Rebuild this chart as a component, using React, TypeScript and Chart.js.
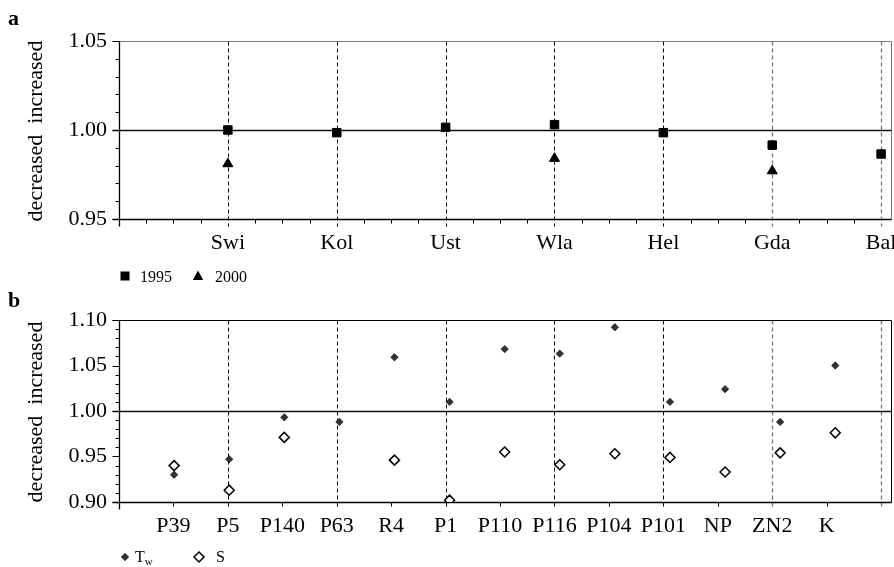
import React, { useEffect, useRef } from 'react';
import { Chart, registerables } from 'chart.js';

Chart.register(...registerables);

const SERIF = '"Liberation Serif", "Times New Roman", serif';

// Panel a
const sitesA = ['Swi', 'Kol', 'Ust', 'Wla', 'Hel', 'Gda', 'Bal'];
const y1995 = [1.0, 0.9985, 1.0015, 1.003, 0.9985, 0.9915, 0.9865];
const y2000 = [0.981, null, null, 0.984, null, 0.977, null];

// Panel b
const sitesB = ['P39', 'P5', 'P140', 'P63', 'R4', 'P1', 'P110', 'P116', 'P104', 'P101', 'NP', 'ZN2', 'K'];
const tw = [0.93, 0.947, 0.993, 0.988, 1.059, 1.01, 1.068, 1.063, 1.092, 1.01, 1.024, 0.988, 1.05];
const sal = [0.94, 0.913, 0.971, null, 0.946, 0.902, 0.955, 0.941, 0.953, 0.949, 0.933, 0.954, 0.976];

type LegendItem = { text: string; sub?: string; marker: string; mx: number; tx: number };
type Deco = {
  letter: string;
  letterY: number;
  yMin: number;
  yMax: number;
  yMinor: number;
  yMajor: number;
  xMax: number;
  xMinor: number;
  dashed: number[];
  gray: number[];
  frame: string;
  refY: number;
  legend: LegendItem[];
  legendY: number;
  textY: number;
};

function drawMarker(ctx: CanvasRenderingContext2D, kind: string, x: number, y: number) {
  ctx.save();
  ctx.beginPath();
  if (kind === 'square') {
    ctx.fillStyle = '#000';
    ctx.fillRect(x - 4.5, y - 4.5, 9, 9);
  } else if (kind === 'triangle') {
    ctx.moveTo(x, y - 5.5);
    ctx.lineTo(x + 5.2, y + 4);
    ctx.lineTo(x - 5.2, y + 4);
    ctx.closePath();
    ctx.fillStyle = '#000';
    ctx.fill();
  } else if (kind === 'dfill') {
    const r = 3.7;
    ctx.moveTo(x, y - r);
    ctx.lineTo(x + r, y);
    ctx.lineTo(x, y + r);
    ctx.lineTo(x - r, y);
    ctx.closePath();
    ctx.fillStyle = '#333';
    ctx.fill();
    ctx.lineWidth = 0.6;
    ctx.strokeStyle = '#000';
    ctx.stroke();
  } else {
    const r = 5;
    ctx.moveTo(x, y - r);
    ctx.lineTo(x + r, y);
    ctx.lineTo(x, y + r);
    ctx.lineTo(x - r, y);
    ctx.closePath();
    ctx.fillStyle = '#fff';
    ctx.fill();
    ctx.lineWidth = 1.5;
    ctx.strokeStyle = '#000';
    ctx.stroke();
  }
  ctx.restore();
}

const decoPlugin = {
  id: 'deco',
  beforeDatasetsDraw(chart: any) {
    const deco: Deco = chart.options.plugins.deco;
    if (!deco) return;
    const ctx: CanvasRenderingContext2D = chart.ctx;
    const { left, right, top, bottom } = chart.chartArea;
    const xs = chart.scales.x;
    const ys = chart.scales.y;
    const L = Math.round(left) + 0.5;
    const R = Math.round(right) - 0.5;
    const T = Math.round(top) + 0.5;
    const B = Math.round(bottom) + 0.5;
    ctx.save();
    // dashed verticals
    for (const v of deco.dashed) {
      const px = Math.round(xs.getPixelForValue(v)) + 0.5;
      ctx.beginPath();
      ctx.setLineDash([4, 3]);
      ctx.lineWidth = deco.gray.includes(v) ? 1.3 : 1;
      ctx.strokeStyle = deco.gray.includes(v) ? '#777' : '#000';
      ctx.moveTo(px, T);
      ctx.lineTo(px, B + 7);
      ctx.stroke();
    }
    ctx.setLineDash([]);
    // frame top & right
    ctx.strokeStyle = deco.frame;
    ctx.lineWidth = 1;
    ctx.beginPath();
    ctx.moveTo(L - 7, T);
    ctx.lineTo(R, T);
    ctx.lineTo(R, B);
    ctx.stroke();
    // reference line
    const ry = Math.round(ys.getPixelForValue(deco.refY)) + 0.5;
    ctx.strokeStyle = '#111';
    ctx.lineWidth = 1.5;
    ctx.beginPath();
    ctx.moveTo(L - 7, ry);
    ctx.lineTo(R, ry);
    ctx.stroke();
    // axes
    ctx.strokeStyle = '#000';
    ctx.lineWidth = 1.3;
    ctx.beginPath();
    ctx.moveTo(L, T);
    ctx.lineTo(L, B + 7);
    ctx.moveTo(L - 7, B);
    ctx.lineTo(R, B);
    ctx.stroke();
    // y ticks
    ctx.lineWidth = 1;
    const n = Math.round((deco.yMax - deco.yMin) / deco.yMinor);
    const perMajor = Math.round(deco.yMajor / deco.yMinor);
    for (let i = 0; i <= n; i++) {
      const v = deco.yMin + i * deco.yMinor;
      const py = Math.round(ys.getPixelForValue(v)) + 0.5;
      const len = i % perMajor === 0 ? 7 : 4;
      ctx.beginPath();
      ctx.moveTo(L - len, py);
      ctx.lineTo(L, py);
      ctx.stroke();
    }
    // x minor ticks
    const m = Math.floor(deco.xMax / deco.xMinor + 1e-6);
    for (let i = 1; i <= m; i++) {
      const v = i * deco.xMinor;
      if (deco.dashed.some((d) => Math.abs(d - v) < 1e-6)) continue;
      const px = Math.round(xs.getPixelForValue(v)) + 0.5;
      ctx.beginPath();
      ctx.moveTo(px, B);
      ctx.lineTo(px, B + 4);
      ctx.stroke();
    }
    ctx.restore();
  },
  afterDraw(chart: any) {
    const deco: Deco = chart.options.plugins.deco;
    if (!deco) return;
    const ctx: CanvasRenderingContext2D = chart.ctx;
    const { top, bottom } = chart.chartArea;
    ctx.save();
    ctx.fillStyle = '#000';
    // panel letter
    ctx.font = `bold 22px ${SERIF}`;
    ctx.textAlign = 'left';
    ctx.textBaseline = 'alphabetic';
    ctx.fillText(deco.letter, 8, deco.letterY);
    // y title
    ctx.save();
    ctx.translate(42, (top + bottom) / 2 + 1);
    ctx.rotate(-Math.PI / 2);
    ctx.font = `22px ${SERIF}`;
    ctx.textAlign = 'center';
    ctx.fillText('decreased  increased', 0, 0);
    ctx.restore();
    // legend
    for (const it of deco.legend) {
      drawMarker(ctx, it.marker, it.mx, deco.legendY);
      ctx.font = `16px ${SERIF}`;
      ctx.fillText(it.text, it.tx, deco.textY);
      if (it.sub) {
        const w = ctx.measureText(it.text).width;
        ctx.font = `11px ${SERIF}`;
        ctx.fillText(it.sub, it.tx + w, deco.textY + 3);
      }
    }
    ctx.restore();
  },
};

function useChart(ref: React.RefObject<HTMLCanvasElement>, makeConfig: () => any) {
  useEffect(() => {
    if (!ref.current) return;
    const chart = new Chart(ref.current, makeConfig());
    return () => chart.destroy();
  }, []);
}

const tickFont = { family: SERIF, size: 22 };

function configA() {
  return {
    type: 'scatter',
    data: {
      datasets: [
        {
          label: '1995',
          data: sitesA.map((_, i) => ({ x: i + 1, y: y1995[i] })),
          pointStyle: 'rect',
          pointRadius: 6,
          backgroundColor: '#000',
          borderColor: '#000',
          borderWidth: 1,
        },
        {
          label: '2000',
          data: sitesA.map((_, i) => ({ x: i + 1, y: y2000[i] })),
          pointStyle: 'triangle',
          pointRadius: 5.8,
          backgroundColor: '#000',
          borderColor: '#000',
          borderWidth: 1,
        },
      ],
    },
    options: {
      responsive: false,
      animation: false,
      devicePixelRatio: 1,
      events: [],
      layout: { autoPadding: false, padding: { top: 41, right: 2, left: 0, bottom: 0 } },
      plugins: {
        legend: { display: false },
        tooltip: { enabled: false },
        deco: {
          letter: 'a',
          letterY: 25,
          yMin: 0.95,
          yMax: 1.05,
          yMinor: 0.01,
          yMajor: 0.05,
          xMax: 7.1,
          xMinor: 0.25,
          dashed: [1, 2, 3, 4, 5, 6, 7],
          gray: [6, 7],
          frame: '#777',
          refY: 1.0,
          legendY: 276,
          textY: 282,
          legend: [
            { text: '1995', marker: 'square', mx: 125, tx: 140 },
            { text: '2000', marker: 'triangle', mx: 198, tx: 215 },
          ],
        },
      },
      scales: {
        x: {
          type: 'linear',
          min: 0,
          max: 7.1,
          grid: { display: false, drawTicks: false },
          border: { display: false },
          ticks: {
            stepSize: 1,
            includeBounds: false,
            autoSkip: false,
            maxRotation: 0,
            padding: 11,
            color: '#000',
            font: tickFont,
            callback: (v: number) =>
              Number.isInteger(v) && v >= 1 && v <= sitesA.length ? sitesA[v - 1] : '',
          },
          afterFit: (s: any) => {
            s.height = 71;
            s.paddingLeft = 0;
            s.paddingRight = 0;
          },
        },
        y: {
          type: 'linear',
          min: 0.95,
          max: 1.05,
          grid: { display: false, drawTicks: false },
          border: { display: false },
          ticks: {
            stepSize: 0.05,
            padding: 12,
            color: '#000',
            font: tickFont,
            callback: (v: number) => Number(v).toFixed(2),
          },
          afterFit: (s: any) => {
            s.width = 119;
          },
        },
      },
    },
    plugins: [decoPlugin],
  };
}

function configB() {
  return {
    type: 'scatter',
    data: {
      datasets: [
        {
          label: 'Tw',
          xAxisID: 'xPts',
          data: sitesB.map((_, i) => ({ x: i + 1, y: tw[i] })),
          pointStyle: 'rectRot',
          pointRadius: 3.7,
          backgroundColor: '#333',
          borderColor: '#000',
          borderWidth: 0.6,
        },
        {
          label: 'S',
          xAxisID: 'xPts',
          data: sitesB.map((_, i) => ({ x: i + 1, y: sal[i] })),
          pointStyle: 'rectRot',
          pointRadius: 5,
          backgroundColor: '#fff',
          borderColor: '#000',
          borderWidth: 1.5,
        },
      ],
    },
    options: {
      responsive: false,
      animation: false,
      devicePixelRatio: 1,
      events: [],
      layout: { autoPadding: false, padding: { top: 30, right: 2, left: 0, bottom: 0 } },
      plugins: {
        legend: { display: false },
        tooltip: { enabled: false },
        deco: {
          letter: 'b',
          letterY: 17,
          yMin: 0.9,
          yMax: 1.1,
          yMinor: 0.01,
          yMajor: 0.05,
          xMax: 14.2,
          xMinor: 1,
          dashed: [2, 4, 6, 8, 10, 12, 14],
          gray: [12, 14],
          frame: '#000',
          refY: 1.0,
          legendY: 267,
          textY: 272,
          legend: [
            { text: 'T', sub: 'w', marker: 'dfill', mx: 125, tx: 135 },
            { text: 'S', marker: 'dopen', mx: 199, tx: 216 },
          ],
        },
      },
      scales: {
        x: {
          type: 'linear',
          min: 0,
          max: 14.2,
          grid: { display: false, drawTicks: false },
          border: { display: false },
          ticks: {
            stepSize: 1,
            includeBounds: false,
            maxTicksLimit: 100,
            autoSkip: false,
            maxRotation: 0,
            padding: 11,
            color: '#000',
            font: tickFont,
            callback: (v: number) =>
              Number.isInteger(v) && v >= 1 && v <= sitesB.length ? sitesB[v - 1] : '',
          },
          afterFit: (s: any) => {
            s.height = 65;
            s.paddingLeft = 0;
            s.paddingRight = 0;
          },
        },
        xPts: {
          type: 'linear',
          display: false,
          min: 0,
          max: 14.03,
        },
        y: {
          type: 'linear',
          min: 0.9,
          max: 1.1,
          grid: { display: false, drawTicks: false },
          border: { display: false },
          ticks: {
            stepSize: 0.05,
            padding: 12,
            color: '#000',
            font: tickFont,
            callback: (v: number) => Number(v).toFixed(2),
          },
          afterFit: (s: any) => {
            s.width = 119;
          },
        },
      },
    },
    plugins: [decoPlugin],
  };
}

export default function App() {
  const refA = useRef<HTMLCanvasElement>(null);
  const refB = useRef<HTMLCanvasElement>(null);
  useChart(refA, configA);
  useChart(refB, configB);
  return (
    <div
      style={{
        position: 'absolute',
        left: 0,
        top: 0,
        width: 894,
        height: 567,
        background: '#fff',
      }}
    >
      <canvas
        ref={refA}
        width={894}
        height={290}
        style={{ position: 'absolute', left: 0, top: 0, width: 894, height: 290 }}
      />
      <canvas
        ref={refB}
        width={894}
        height={277}
        style={{ position: 'absolute', left: 0, top: 290, width: 894, height: 277 }}
      />
    </div>
  );
}
